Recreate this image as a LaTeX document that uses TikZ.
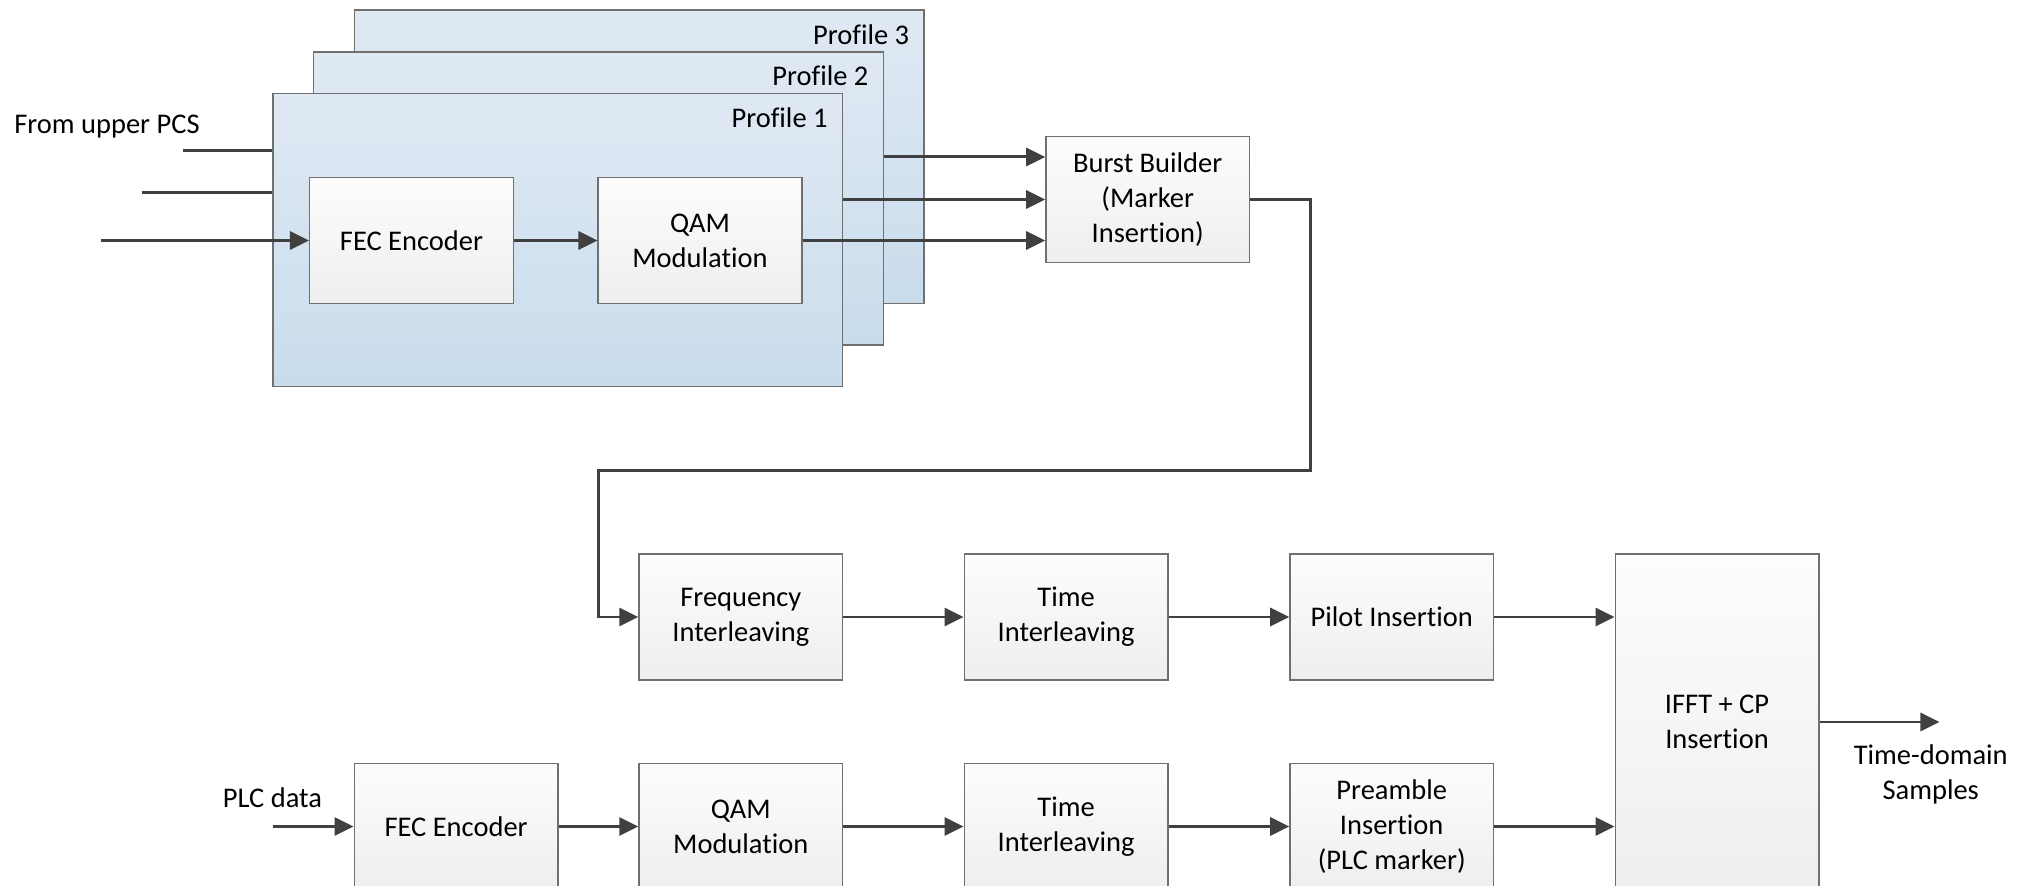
\documentclass[tikz,border=0pt]{standalone}
\usepackage{fontspec}
\setmainfont[Ligatures=NoCommon]{Carlito}
\usepackage{xcolor}
\usepackage{tikz}
\usetikzlibrary{arrows.meta,calc}

\definecolor{linegray}{HTML}{404040}
\definecolor{edgegray}{HTML}{707070}
\definecolor{proftop}{HTML}{DFE9F3}
\definecolor{profbot}{HTML}{C9DCEC}
\definecolor{blocktop}{HTML}{FDFDFD}
\definecolor{blockbot}{HTML}{EEEEEE}

\tikzset{
    block/.style={draw=edgegray, line width=0.4pt, top color=blocktop, bottom color=blockbot,
        minimum width=2.035cm, minimum height=1.256cm, align=center, inner sep=1pt},
    profile/.style={draw=edgegray, line width=0.4pt, top color=proftop, bottom color=profbot,
        minimum width=5.694cm, minimum height=2.93cm, inner sep=0pt},
    plabel/.style={anchor=east, inner sep=0pt},
    flow/.style={draw=linegray, line width=0.85pt},
    >={Triangle[length=0.19cm, width=0.18cm]}
}

\begin{document}
\begin{tikzpicture}[x=0.01cm, y=-0.01cm, font=\fontsize{8.1}{9.9}\selectfont]
    \useasboundingbox (0,0) rectangle (2022,886);

    % Profile stack
    \node[profile] (prof3) at (639.3,156.8) {};
    \node[plabel] (lab3) at ($(prof3.north east)+(-15,25)$) {Profile 3};
    \node[profile] (prof2) at (598.5,198.5) {};
    \node[plabel] (lab2) at ($(prof2.north east)+(-15,25)$) {Profile 2};
    \node[profile] (prof1) at (557.7,240.2) {};
    \node[plabel] (lab1) at ($(prof1.north east)+(-15,25)$) {Profile 1};

    % Blocks inside profile 1
    \node[block] (fec1) at (411.5,240.5) {FEC Encoder};
    \node[block] (qam1) at (700,240.5) {QAM\\Modulation};

    % Burst builder
    \node[block] (burst) at (1147.7,199.5) {Burst Builder\\(Marker\\Insertion)};

    % Data path
    \node[block] (fi) at (740.8,617) {Frequency\\Interleaving};
    \node[block] (ti) at (1066.1,617) {Time\\Interleaving};
    \node[block] (pilot) at (1391.7,617) {Pilot Insertion};
    \node[block, minimum height=3.354cm] (ifft) at (1717,722) {IFFT + CP\\Insertion};

    % PLC path
    \node[block] (fec2) at (456.1,826.5) {FEC Encoder};
    \node[block] (qam2) at (740.8,826.5) {QAM\\Modulation};
    \node[block] (ti2) at (1066.1,826.5) {Time\\Interleaving};
    \node[block] (pre) at (1391.7,826.5) {Preamble\\Insertion\\(PLC marker)};

    % Labels
    \node (upper) at (107,126.7) {From upper PCS};
    \node (plc) at (272.4,798) {PLC data};
    \node[align=center] (tdom) at (1930.7,774) {Time-domain\\Samples};

    % Inputs from upper PCS
    \coordinate (in1) at (183,150.3);
    \coordinate (in2) at (141.8,192.3);
    \coordinate (in3) at (101.2,240.5);
    \draw[flow] (in1) -- (in1 -| prof1.west);
    \draw[flow] (in2) -- (in2 -| prof1.west);
    \draw[flow,->] (in3) -- (fec1);
    \draw[flow,->] (fec1) -- (qam1);

    % Profile outputs
    \coordinate (o3) at (0,157);
    \draw[flow,->] (qam1) -- (qam1 -| burst.west);
    \draw[flow,->] (prof1.east |- burst.west) -- (burst.west);
    \draw[flow,->] (prof2.east |- o3) -- (burst.west |- o3);

    % Back to frequency interleaving
    \coordinate (turn1) at (1310.2,470.3);
    \coordinate (turn2) at (598.3,617);
    \draw[flow,->] (burst.east) -| (turn1) -| (turn2) -- (fi.west);

    % Chains
    \foreach \a/\b in {fi/ti, ti/pilot, fec2/qam2, qam2/ti2, ti2/pre}
        \draw[flow,->] (\a) -- (\b);
    \draw[flow,->] (pilot.east) -- (pilot.east -| ifft.west);
    \draw[flow,->] (pre.east) -- (pre.east -| ifft.west);

    \coordinate (plcin) at (272.7,826.5);
    \draw[flow,->] (plcin) -- (fec2);
    \coordinate (tout) at (1939.4,722);
    \draw[flow,->] (ifft) -- (tout);

\end{tikzpicture}
\end{document}
